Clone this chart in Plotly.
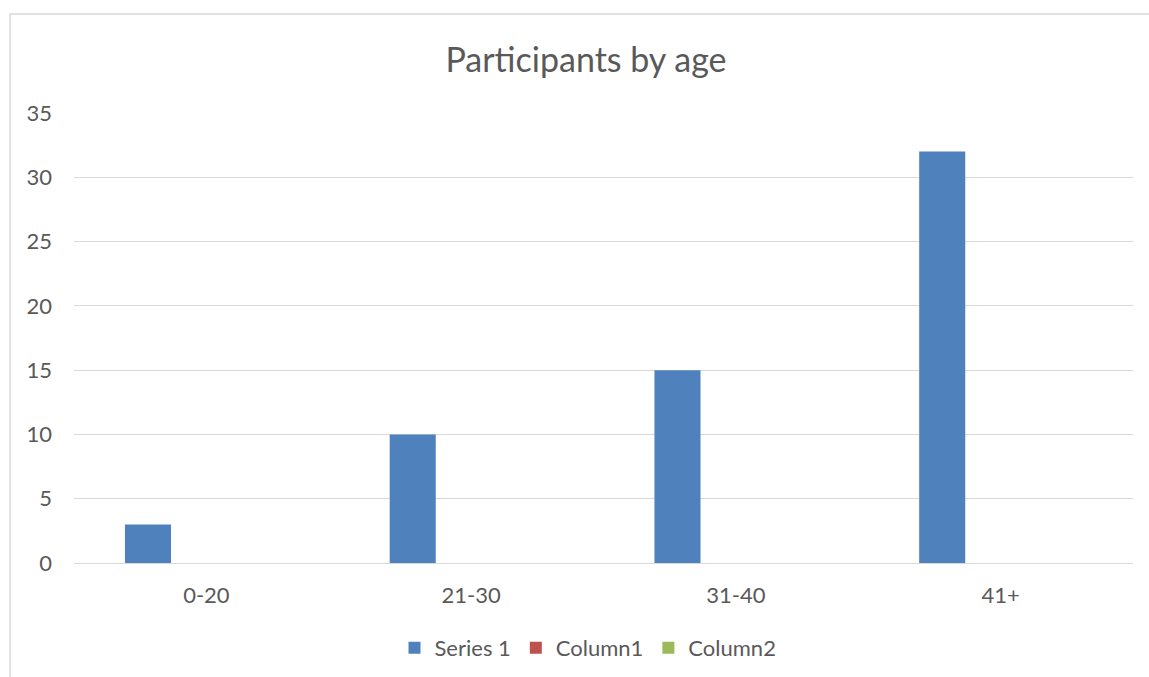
import plotly.graph_objects as go

categories = ["0-20", "21-30", "31-40", "41+"]
series_1 = [3, 10, 15, 32]
column_1 = [None, None, None, None]
column_2 = [None, None, None, None]
y_ticks = [0, 5, 10, 15, 20, 25, 30, 35]

FONT = "Lato"
GREY_TXT = "#595959"
GRID = "#d9d9d9"

W, H = 1149, 677
L, R, T, B = 74, 16, 113, 114
pw, ph = W - L - R, H - T - B

bar_w = 0.174
offsets = [-0.3076, -0.087, 0.1336]

fig = go.Figure()
for name, vals, col, off in [
    ("Series 1", series_1, "#4F81BD", offsets[0]),
    ("Column1", column_1, "#C0504D", offsets[1]),
    ("Column2", column_2, "#9BBB59", offsets[2]),
]:
    fig.add_trace(go.Bar(x=categories, y=vals, name=name, marker_color=col,
                         marker_line_width=0, width=bar_w, offset=off))

def px_x(px):
    return (px - L) / pw

def px_y(py):
    return (H - B - py) / ph

fig.update_layout(
    width=W, height=H,
    margin=dict(l=L, r=R, t=T, b=B, autoexpand=False),
    barmode="overlay",
    paper_bgcolor="white", plot_bgcolor="white",
    font=dict(family=FONT, color=GREY_TXT, size=22),
    title=dict(text="Participants by age", x=(586) / W, xanchor="center",
               xref="container", y=1 - 60 / H, yanchor="middle", yref="container",
               font=dict(size=34, color=GREY_TXT, family=FONT)),
    showlegend=True,
    legend=dict(orientation="h", x=px_x(588), xanchor="center", y=px_y(648), yanchor="middle",
                font=dict(size=22, color=GREY_TXT, family=FONT), itemsizing="constant",
                bgcolor="rgba(0,0,0,0)"),
    xaxis=dict(showgrid=False, showline=True, linecolor=GRID, linewidth=1, ticks="",
               tickfont=dict(size=22, color=GREY_TXT), ticklabelstandoff=13,
               range=[-0.5, 3.5], fixedrange=True),
    yaxis=dict(range=[0, 35], tickvals=y_ticks, showgrid=True, gridcolor=GRID, gridwidth=1,
               zeroline=True, zerolinecolor=GRID, zerolinewidth=1, ticks="",
               tickfont=dict(size=22, color=GREY_TXT), ticklabelstandoff=21, showline=False),
    shapes=[dict(type="rect", xref="paper", yref="paper",
                 x0=px_x(10), x1=px_x(1160), y0=px_y(690), y1=px_y(14),
                 line=dict(color=GRID, width=1.5), fillcolor="rgba(0,0,0,0)", layer="below")],
)

fig.write_html("out.html")
